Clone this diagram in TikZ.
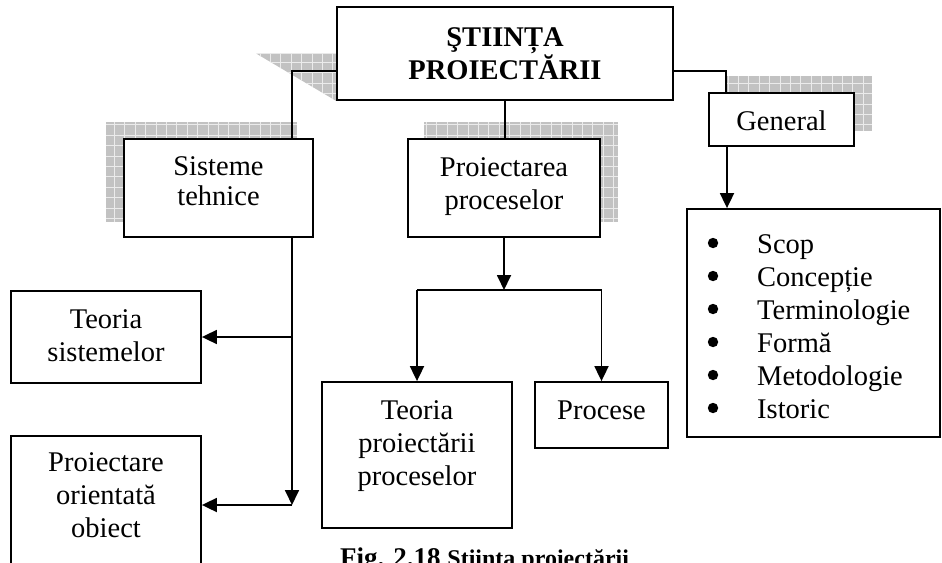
\documentclass[tikz,border=0pt]{standalone}
\usepackage{fontspec}
\setmainfont{Liberation Serif}
\usetikzlibrary{arrows.meta,backgrounds}

\tikzset{
  box/.style={draw=black, line width=1.8pt, fill=white, inner sep=0pt},
  % texts are placed by the baseline of their last line
  txt/.style={align=center, inner sep=0pt, anchor=base,
              font=\fontsize{28.5}{33}\selectfont},
  link/.style={line width=1.8pt},
  arr/.style={link, -{Triangle[length=15pt,width=14pt]}},
  shadowfill/.style={fill=black!24},
  shadowgrid/.style={draw=black!8, line width=0.8pt},
}

% grey hatched shadow behind a box: clipped fill plus a light grid
\newcommand\gridshadow[1]{%
  \begin{scope}
    \clip #1;
    \fill[shadowfill] #1;
    \foreach \gx in {0,10.4,...,942} {\draw[shadowgrid] (\gx,0) -- (\gx,562);}
    \foreach \gy in {0,10.4,...,562} {\draw[shadowgrid] (0,\gy) -- (942,\gy);}
  \end{scope}}

\begin{document}
\begin{tikzpicture}[x=1pt,y=-1pt]
\clip (0,0) rectangle (942,562);

% boxes
\node[box, minimum width=336pt, minimum height=93pt]  (top)  at (505,53.5)  {};
\node[box, minimum width=189pt, minimum height=98pt]  (sist) at (218.5,188) {};
\node[box, minimum width=192pt, minimum height=98pt]  (proc) at (504,188)   {};
\node[box, minimum width=145pt, minimum height=53pt]  (gen)  at (781.5,119.5) {};
\node[box, minimum width=253pt, minimum height=228pt] (list) at (813.5,323) {};
\node[box, minimum width=190pt, minimum height=92pt]  (tsis) at (106,337)   {};
\node[box, minimum width=190pt, minimum height=138pt] (poo)  at (106,505)   {};
\node[box, minimum width=190pt, minimum height=146pt] (tpp)  at (417,455)   {};
\node[box, minimum width=133pt, minimum height=66pt]  (pcs)  at (601.5,415) {};

% box texts
\node[txt, font=\fontsize{28.5}{32}\selectfont\bfseries] (topT)
  at ([yshift=-73pt]top.north) {ŞTIINȚA\\PROIECTĂRII};
\node[txt, font=\fontsize{28.5}{30}\selectfont] (sistT)
  at ([yshift=-67pt]sist.north) {Sisteme\\tehnice};
\node[txt] (procT) at ([yshift=-71pt]proc.north) {Proiectarea\\proceselor};
\node[txt] (genT)  at ([yshift=-38pt]gen.north)  {General};
\node[txt] (tsisT) at ([yshift=-71pt]tsis.north) {Teoria\\sistemelor};
\node[txt] (pooT)  at ([yshift=-102pt]poo.north) {Proiectare\\orientată\\obiect};
\node[txt] (tppT)  at ([yshift=-104pt]tpp.north) {Teoria\\proiectării\\proceselor};
\node[txt] (pcsT)  at ([yshift=-38pt]pcs.north)  {Procese};

% bulleted list
\foreach \t [count=\i] in {Scop,Concepție,Terminologie,Formă,Metodologie,Istoric}{
  \node[txt, anchor=base west] (item\i) at (757,{253+33*(\i-1)}) {\t};
  \fill (713,{243+33*(\i-1)}) circle (5.2);
}

% caption
\node[anchor=base west, inner sep=0pt] (cap) at (340,566)
  {\fontsize{27}{30}\selectfont\bfseries Fig. 2.18 \fontsize{24}{28}\selectfont Ştiinţa proiectării};

% shadows
\begin{scope}[on background layer]
  \gridshadow{([xshift=-80pt]top.west) -- (top.west) -- (top.south west) -- cycle}
  \gridshadow{([shift={(-17,-16)}]sist.south west) rectangle ([shift={(-17,-16)}]sist.north east)}
  \gridshadow{([shift={(17,-16)}]proc.south west) rectangle ([shift={(17,-16)}]proc.north east)}
  \gridshadow{([shift={(17,-16)}]gen.south west) rectangle ([shift={(17,-16)}]gen.north east)}
\end{scope}

% connectors
\draw[link] ([yshift=-17.5pt]top.west) -| ([xshift=73.5pt]sist.north);
\draw[link] ([yshift=-17.5pt]top.east) -| ([xshift=-55.5pt]gen.north);
\draw[link] (top.south) -- (top.south |- proc.north);

\draw[arr] ([xshift=73.5pt]sist.south) -- ([xshift=73.5pt]sist.south |- poo.east);
\draw[arr] ([xshift=73.5pt]sist.south |- poo.east) -- (poo.east);
\draw[arr] ([xshift=73.5pt]sist.south |- tsis.east) -- (tsis.east);

\coordinate (fork) at (504,290);
\draw[arr] (proc.south) -- (fork);
\draw[link] (tpp.north |- fork) -- (pcs.north |- fork);
\draw[arr] (tpp.north |- fork) -- (tpp.north);
\draw[arr] (pcs.north |- fork) -- (pcs.north);

\draw[arr] ([xshift=-54.5pt]gen.south) -- ([xshift=-54.5pt]gen.south |- list.north);
\end{tikzpicture}
\end{document}
